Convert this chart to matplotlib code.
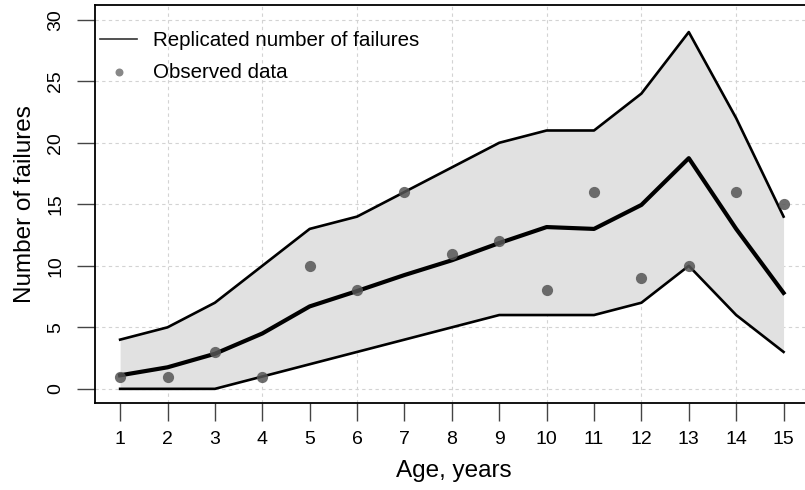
import numpy as np
import matplotlib.pyplot as plt

plt.rcParams['font.family'] = ['Liberation Sans', 'DejaVu Sans']

# Data
age = np.arange(1, 16)
upper = [4, 5, 7, 10, 13, 14, 16, 18, 20, 21, 21, 24, 29, 22, 14]
lower = [0, 0, 0, 1, 2, 3, 4, 5, 6, 6, 6, 7, 10, 6, 3]
mean_rep = [1.1, 1.75, 2.85, 4.5, 6.7, 7.95, 9.25, 10.45, 11.85, 13.15, 13.0, 14.95, 18.75, 13.0, 7.8]
observed = [1, 1, 3, 1, 10, 8, 16, 11, 12, 8, 16, 9, 10, 16, 15]

fig = plt.figure(figsize=(8.05, 4.9), dpi=100)
ax = fig.add_axes([95 / 805, 1 - 403 / 490, 717 / 805, 398 / 490])

# grid like R grid()
for gx in range(2, 15, 2):
    ax.axvline(gx, color='#d3d3d3', lw=0.8, ls=(0, (3, 3)), zorder=0)
for gy in range(0, 31, 5):
    ax.axhline(gy, color='#d3d3d3', lw=0.8, ls=(0, (3, 3)), zorder=0)

ax.fill_between(age, lower, upper, color='#e1e1e1', lw=0, zorder=1)
ax.plot(age, upper, color='black', lw=1.9, zorder=2)
ax.plot(age, lower, color='black', lw=1.9, zorder=2)
ax.plot(age, mean_rep, color='black', lw=3.0, zorder=2)
ax.scatter(age, observed, s=65, color='#555555', alpha=0.85, lw=0, zorder=3)

# legend
ax.plot([], [], color='#333333', lw=1.2, label='Replicated number of failures')
ax.scatter([], [], s=33, color='#888888', lw=0, label='Observed data')
h, l = ax.get_legend_handles_labels()
ax.legend(h[-2:], l[-2:], loc='upper left', frameon=False, fontsize=14.8,
          handlelength=1.8, handletextpad=0.8, labelspacing=0.62,
          borderaxespad=0, borderpad=0, bbox_to_anchor=(5 / 717, 0.935))

ax.set_xlim(0.47, 15.6)
ax.set_ylim(-1.15, 31.2)
ax.set_xticks(age)
ax.set_yticks(range(0, 31, 5))
ax.tick_params(axis='both', direction='out', length=13, width=1.0,
               color='#444444', labelsize=14)
ax.tick_params(axis='x', pad=7)
ax.tick_params(axis='y', pad=9)
for lab in ax.get_yticklabels():
    lab.set_rotation(90)
    lab.set_va('center')
for s in ax.spines.values():
    s.set_linewidth(1.3)

ax.set_xlabel('Age, years', fontsize=17.5, labelpad=9)
ax.set_ylabel('Number of failures', fontsize=17.5, labelpad=8)

fig.savefig('out.png', dpi=100)
